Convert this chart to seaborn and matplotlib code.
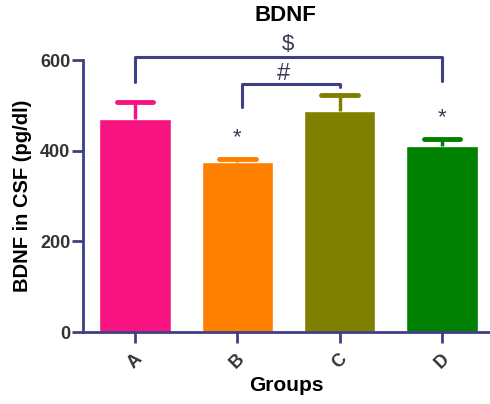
import numpy as np
import pandas as pd
import matplotlib
matplotlib.use('Agg')
import matplotlib.pyplot as plt
import seaborn as sns

# Values
groups = ['A', 'B', 'C', 'D']
means = [470, 375, 487, 411]
sems = [37, 8, 36, 15]
bar_colors = ['#F71480', '#FF8000', '#808000', '#008000']

# significance marks
star_groups = ['B', 'D']
star_heights = [430, 474]

axis_color = '#3E3F86'
mark_color = '#3A3C55'

sns.set_style('ticks')
plt.rcParams['font.family'] = ['Liberation Sans', 'DejaVu Sans']

fig = plt.figure(figsize=(4.9, 4.04), dpi=100)
ax = fig.add_axes([0.169, 0.178, 0.829, 0.673])

df = pd.DataFrame({'Group': groups, 'BDNF': means})
sns.barplot(data=df, x='Group', y='BDNF', hue='Group', palette=bar_colors,
            width=0.7, saturation=1, legend=False, ax=ax)

# upper-only error bars in bar colour
for i, (m, s, c) in enumerate(zip(means, sems, bar_colors)):
    ax.errorbar(i, m, yerr=[[0], [s]], fmt='none', ecolor=c,
                elinewidth=2.5, capsize=0, zorder=3)
    ax.plot([i - 0.18, i + 0.18], [m + s, m + s], color=c, lw=3.5,
            solid_capstyle='round', zorder=3)

# asterisks
for g, h in zip(star_groups, star_heights):
    ax.text(groups.index(g), h, '*', ha='center', va='center',
            fontsize=16, color=mark_color)

# brackets
ax.plot([0, 0, 3, 3], [552, 606, 606, 554], color=axis_color, lw=2.2,
        clip_on=False, solid_capstyle='round')
ax.text(1.5, 634, '$', ha='center', va='center', fontsize=16,
        color=mark_color)
ax.plot([1.05, 1.05, 2.0, 2.0], [496, 547, 547, 541], color=axis_color,
        lw=2.2, clip_on=False, solid_capstyle='round')
ax.text(1.45, 570, '#', ha='center', va='center', fontsize=17,
        color=mark_color)

ax.set_ylim(0, 600)
ax.set_xlim(-0.51, 3.46)
ax.set_yticks([0, 200, 400, 600])

for side in ['top', 'right']:
    ax.spines[side].set_visible(False)
for side in ['left', 'bottom']:
    ax.spines[side].set_color(axis_color)
    ax.spines[side].set_linewidth(2)

ax.tick_params(axis='both', colors=axis_color, width=2, length=8, pad=1,
               labelcolor='#333333', labelsize=13)
ax.tick_params(axis='x', pad=5)
for lab in ax.get_yticklabels():
    lab.set_fontweight('bold')
for lab in ax.get_xticklabels():
    lab.set_fontweight('bold')
    lab.set_rotation(45)
    lab.set_ha('center')
    lab.set_va('top')

ax.set_title('BDNF', fontsize=16, fontweight='bold', pad=28, color='black')
ax.set_xlabel('Groups', fontsize=15, fontweight='bold', labelpad=3,
              color='black')
ax.set_ylabel('BDNF in CSF (pg/dl)', fontsize=14.5, fontweight='bold',
              labelpad=6, color='black')

fig.savefig('out.png', dpi=100)
